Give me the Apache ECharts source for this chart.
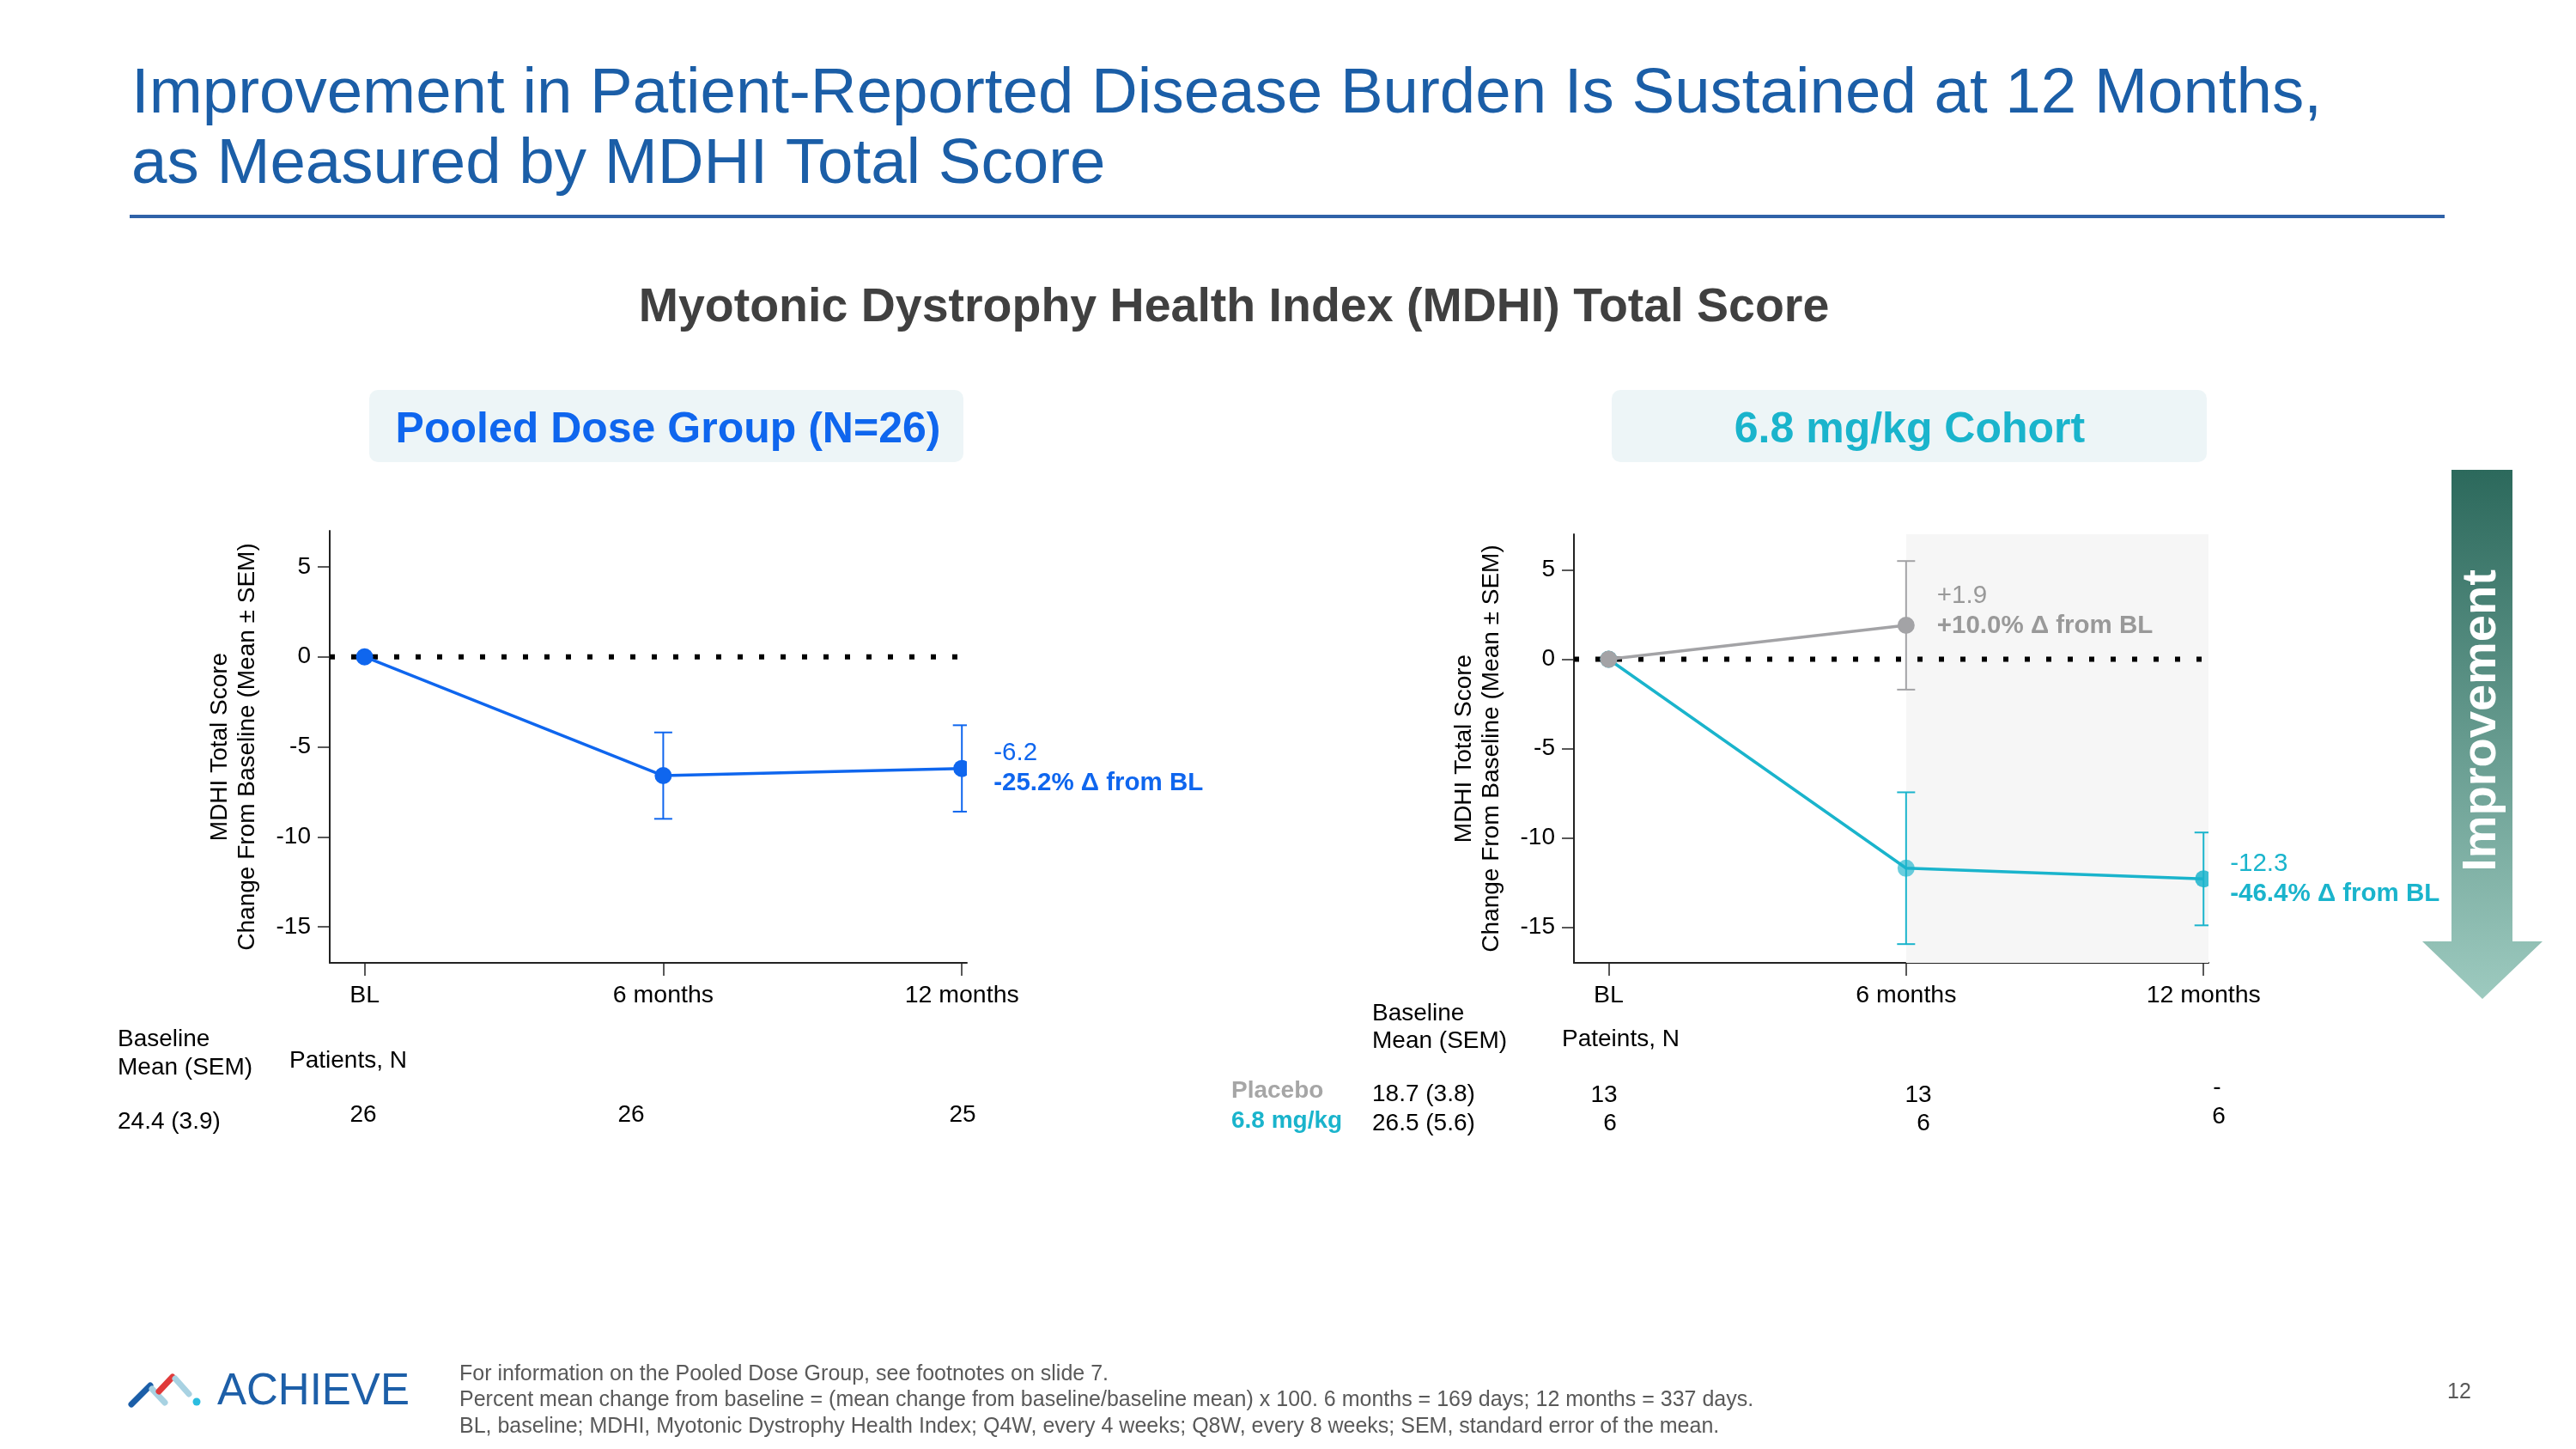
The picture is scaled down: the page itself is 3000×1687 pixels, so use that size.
<!DOCTYPE html>
<html lang="en">
<head>
<meta charset="UTF-8">
<title>MDHI Total Score</title>
<script src="https://cdn.jsdelivr.net/npm/echarts@6.0.0/dist/echarts.min.js"></script>
<style>
  html, body { margin: 0; padding: 0; width: 100%; height: 100%; background: #fff; }
  #chart { width: 3000px; height: 1687px; }
</style>
</head>
<body>
<div id="chart"></div>
<script type="text/javascript">
// visits (months) and their labels
var months = [0, 6, 12];
var monthLabels = ['BL', '6 months', '12 months'];
var yTicks = [-15, -10, -5, 0, 5];
var zeroX = [-0.7, 12];

// pooled dose group, change from baseline (mean, SEM)
var pooledMean = [0, -6.6, -6.2];
var pooledSem = [0, 2.4, 2.4];
var pooledNote = ['-6.2', '-25.2% \u0394 from BL'];

// 6.8 mg/kg cohort and placebo
var placeboMonths = [0, 6];
var placeboMean = [0, 1.9];
var placeboSem = [0, 3.6];
var placeboNote = ['+1.9', '+10.0% \u0394 from BL'];
var cohortMean = [0, -11.7, -12.3];
var cohortSem = [0, 4.25, 2.6];
var cohortNote = ['-12.3', '-46.4% \u0394 from BL'];
var shadeRange = [6, 12.1];

// table under the charts
var pooledBaseline = '24.4 (3.9)';
var pooledN = ['26', '26', '25'];
var placeboBaseline = '18.7 (3.8)';
var cohortBaseline = '26.5 (5.6)';
var placeboN = ['13', '13', '-'];
var cohortN = ['6', '6', '6'];

var FONT = '"Liberation Sans", Arial, Helvetica, sans-serif';
var BLUE = '#0f66ee';
var TEAL = '#1ab4cc';
var GRAY = '#a3a3a6';

var chart = echarts.init(document.getElementById('chart'));

function pts(ms, vals) {
    return ms.map(function (m, i) { return [m, vals[i]]; });
}
function errData(ms, means, sems) {
    return ms.map(function (m, i) { return [m, means[i], means[i] - sems[i], means[i] + sems[i]]; });
}

// error bar + marker, clipped to the plot area
function markerRender(color, opacities) {
    return function (params, api) {
        var x = api.value(0), m = api.value(1), lo = api.value(2), hi = api.value(3);
        var c = api.coord([x, m]);
        var kids = [];
        if (lo !== hi) {
            var t = api.coord([x, hi]), b = api.coord([x, lo]);
            var st = { stroke: color, lineWidth: 2 };
            kids.push({ type: 'line', shape: { x1: t[0], y1: t[1], x2: b[0], y2: b[1] }, style: st });
            kids.push({ type: 'line', shape: { x1: t[0] - 10.5, y1: t[1], x2: t[0] + 10.5, y2: t[1] }, style: st });
            kids.push({ type: 'line', shape: { x1: b[0] - 10.5, y1: b[1], x2: b[0] + 10.5, y2: b[1] }, style: st });
        }
        kids.push({ type: 'circle', shape: { cx: c[0], cy: c[1], r: 10 },
            style: { fill: color, opacity: opacities ? opacities[params.dataIndex] : 1 } });
        return { type: 'group', children: kids };
    };
}

function noteLabel(note, color, dist, offset) {
    return {
        show: true, position: 'right', distance: dist, offset: offset || [0, 0],
        formatter: '{a|' + note[0] + '}\n{b|' + note[1] + '}',
        rich: {
            a: { fontSize: 29.5, fontFamily: FONT, color: color, lineHeight: 35 },
            b: { fontSize: 29.5, fontFamily: FONT, fontWeight: 'bold', color: color, lineHeight: 35 }
        }
    };
}

function lineData(ms, vals, labelIdx, label) {
    return ms.map(function (m, i) {
        var d = { value: [m, vals[i]] };
        if (i === labelIdx) d.label = label;
        return d;
    });
}

function xAxisOf(idx) {
    return {
        type: 'value', gridIndex: idx, min: -0.7, max: 12.1,
        axisLine: { onZero: false, lineStyle: { color: '#222', width: 2 } },
        axisTick: { show: true, customValues: months, length: 15, lineStyle: { color: '#222', width: 1.5 } },
        axisLabel: {
            customValues: months, margin: 24, fontSize: 28.5, fontFamily: FONT, color: '#000',
            formatter: function (v) { return monthLabels[months.indexOf(v)]; }
        },
        splitLine: { show: false }
    };
}
function yAxisOf(idx) {
    return {
        type: 'value', gridIndex: idx, min: -17, max: 7,
        name: 'MDHI Total Score\nChange From Baseline (Mean \u00b1 SEM)',
        nameLocation: 'middle', nameRotate: 90, nameGap: 80,
        nameTextStyle: { fontSize: 28, fontFamily: FONT, color: '#000', lineHeight: 32, align: 'center' },
        axisLine: { show: true, onZero: false, lineStyle: { color: '#222', width: 2 } },
        axisTick: { show: true, customValues: yTicks, length: 14, lineStyle: { color: '#222', width: 1.5 } },
        axisLabel: { customValues: yTicks, margin: 22, fontSize: 28, fontFamily: FONT, color: '#000' },
        splitLine: { show: false }
    };
}

function zeroLine(idx) {
    return {
        type: 'line', xAxisIndex: idx, yAxisIndex: idx, z: 2, silent: true,
        data: pts(zeroX, [0, 0]), symbol: 'none',
        lineStyle: { color: '#000', width: 6, type: [6, 19], cap: 'butt' }
    };
}

function txt(x, y, s, size, color, weight, align) {
    return {
        type: 'text', x: x, y: y, silent: true,
        style: { text: s, fontSize: size, fontFamily: FONT, fontWeight: weight || 'normal',
            fill: color, align: align || 'left', verticalAlign: 'middle' }
    };
}

var graphics = [
    txt(153, 110, 'Improvement in Patient-Reported Disease Burden Is Sustained at 12 Months,', 74.5, '#1b5ea7'),
    txt(153, 192, 'as Measured by MDHI Total Score', 74.5, '#1b5ea7'),
    { type: 'rect', shape: { x: 151, y: 250, width: 2696, height: 4 }, style: { fill: '#2f62a8' }, silent: true },
    txt(1437, 359, 'Myotonic Dystrophy Health Index (MDHI) Total Score', 55.5, '#404040', 'bold', 'center'),
    { type: 'rect', shape: { x: 430, y: 454, width: 692, height: 84, r: 10 }, style: { fill: '#edf5f7' }, silent: true },
    txt(778, 501, 'Pooled Dose Group (N=26)', 50, BLUE, 'bold', 'center'),
    { type: 'rect', shape: { x: 1877, y: 454, width: 693, height: 84, r: 10 }, style: { fill: '#edf5f7' }, silent: true },
    txt(2224, 501, '6.8 mg/kg Cohort', 50, TEAL, 'bold', 'center'),

    // left table
    txt(137, 1210, 'Baseline', 28, '#000'),
    txt(137, 1243, 'Mean (SEM)', 28, '#000'),
    txt(337, 1235, 'Patients, N', 28, '#000'),
    txt(137, 1306, pooledBaseline, 28, '#000'),
    txt(423, 1298, pooledN[0], 28, '#000', 'normal', 'center'),
    txt(735, 1298, pooledN[1], 28, '#000', 'normal', 'center'),
    txt(1121, 1298, pooledN[2], 28, '#000', 'normal', 'center'),

    // right table
    txt(1598, 1180, 'Baseline', 28, '#000'),
    txt(1598, 1212, 'Mean (SEM)', 28, '#000'),
    txt(1819, 1210, 'Pateints, N', 28, '#000'),
    txt(1434, 1270, 'Placebo', 28, '#a6a6a6', 'bold'),
    txt(1434, 1305, '6.8 mg/kg', 28, TEAL, 'bold'),
    txt(1598, 1274, placeboBaseline, 28, '#000'),
    txt(1598, 1308, cohortBaseline, 28, '#000'),
    txt(1868, 1275, placeboN[0], 28, '#000', 'normal', 'center'),
    txt(1875, 1308, cohortN[0], 28, '#000', 'normal', 'center'),
    txt(2234, 1275, placeboN[1], 28, '#000', 'normal', 'center'),
    txt(2240, 1308, cohortN[1], 28, '#000', 'normal', 'center'),
    txt(2582, 1266, placeboN[2], 28, '#000', 'normal', 'center'),
    txt(2584, 1300, cohortN[2], 28, '#000', 'normal', 'center'),

    // improvement arrow
    {
        type: 'polygon', silent: true,
        shape: { points: [[2855, 547], [2926, 547], [2926, 1096], [2961, 1096], [2891, 1163], [2821, 1096], [2855, 1096]] },
        style: { fill: new echarts.graphic.LinearGradient(0, 0, 0, 1, [
            { offset: 0, color: '#2c695c' }, { offset: 1, color: '#9dcabf' }]) }
    },
    {
        type: 'text', x: 2891, y: 839, rotation: Math.PI / 2, silent: true,
        style: { text: 'Improvement', fontSize: 56, fontFamily: FONT, fontWeight: 'bold', fill: '#fff',
            align: 'center', verticalAlign: 'middle' }
    },

    // logo
    { type: 'line', shape: { x1: 153, y1: 1635, x2: 175, y2: 1613 }, style: { stroke: '#1b5ea8', lineWidth: 7, lineCap: 'round' }, silent: true },
    { type: 'line', shape: { x1: 177, y1: 1617, x2: 192, y2: 1633 }, style: { stroke: '#a8d2e2', lineWidth: 7, lineCap: 'round' }, silent: true },
    { type: 'line', shape: { x1: 185, y1: 1620, x2: 201, y2: 1603 }, style: { stroke: '#e03a3a', lineWidth: 7, lineCap: 'round' }, silent: true },
    { type: 'line', shape: { x1: 204, y1: 1605, x2: 220, y2: 1623 }, style: { stroke: '#a8d2e2', lineWidth: 7, lineCap: 'round' }, silent: true },
    { type: 'circle', shape: { cx: 229, cy: 1632, r: 4.5 }, style: { fill: '#2bbde0' }, silent: true },
    txt(253, 1621, 'ACHIEVE', 51, '#1d5fa8'),

    // footnotes
    txt(535, 1600, 'For information on the Pooled Dose Group, see footnotes on slide 7.', 25, '#595959'),
    txt(535, 1630, 'Percent mean change from baseline = (mean change from baseline/baseline mean) x 100. 6 months = 169 days; 12 months = 337 days.', 25, '#595959'),
    txt(535, 1661, 'BL, baseline; MDHI, Myotonic Dystrophy Health Index; Q4W, every 4 weeks; Q8W, every 8 weeks; SEM, standard error of the mean.', 25, '#595959'),
    txt(2864, 1621, '12', 25, '#595959', 'normal', 'center')
];

var option = {
    animation: false,
    backgroundColor: '#fff',
    textStyle: { fontFamily: FONT },
    grid: [
        { left: 384, top: 618, width: 742, height: 503, outerBoundsMode: 'none' },
        { left: 1833, top: 622, width: 739, height: 499, outerBoundsMode: 'none' }
    ],
    xAxis: [xAxisOf(0), xAxisOf(1)],
    yAxis: [yAxisOf(0), yAxisOf(1)],
    graphic: graphics,
    series: [
        // shaded 6-12 month area (right)
        {
            type: 'line', xAxisIndex: 1, yAxisIndex: 1, z: 1, silent: true, symbol: 'none',
            data: [[shadeRange[0], 0]],
            markArea: {
                silent: true, itemStyle: { color: '#f6f6f6' },
                data: [[{ xAxis: shadeRange[0], yAxis: -17 }, { xAxis: shadeRange[1], yAxis: 7 }]]
            }
        },
        zeroLine(0),
        zeroLine(1),
        // pooled line
        {
            type: 'line', xAxisIndex: 0, yAxisIndex: 0, z: 3, symbol: 'circle', symbolSize: 20,
            itemStyle: { color: 'rgba(0,0,0,0)' }, lineStyle: { color: BLUE, width: 3.5 },
            data: lineData(months, pooledMean, 2, noteLabel(pooledNote, BLUE, 27))
        },
        {
            type: 'custom', xAxisIndex: 0, yAxisIndex: 0, z: 4, clip: true,
            renderItem: markerRender(BLUE), encode: { x: 0, y: 1 },
            data: errData(months, pooledMean, pooledSem)
        },
        // cohort line
        {
            type: 'line', xAxisIndex: 1, yAxisIndex: 1, z: 3, symbol: 'circle', symbolSize: 20,
            itemStyle: { color: 'rgba(0,0,0,0)' }, lineStyle: { color: TEAL, width: 3.5 },
            data: lineData(months, cohortMean, 2, noteLabel(cohortNote, TEAL, 21))
        },
        {
            type: 'custom', xAxisIndex: 1, yAxisIndex: 1, z: 4, clip: true,
            renderItem: markerRender(TEAL, [1, 0.65, 0.85]), encode: { x: 0, y: 1 },
            data: errData(months, cohortMean, cohortSem)
        },
        // placebo line
        {
            type: 'line', xAxisIndex: 1, yAxisIndex: 1, z: 5, symbol: 'circle', symbolSize: 20,
            itemStyle: { color: 'rgba(0,0,0,0)' }, lineStyle: { color: GRAY, width: 3.5 },
            data: lineData(placeboMonths, placeboMean, 1, noteLabel(placeboNote, '#999999', 26, [0, -17]))
        },
        {
            type: 'custom', xAxisIndex: 1, yAxisIndex: 1, z: 6, clip: true,
            renderItem: markerRender(GRAY), encode: { x: 0, y: 1 },
            data: errData(placeboMonths, placeboMean, placeboSem)
        }
    ]
};
chart.setOption(option);
</script>
</body>
</html>
